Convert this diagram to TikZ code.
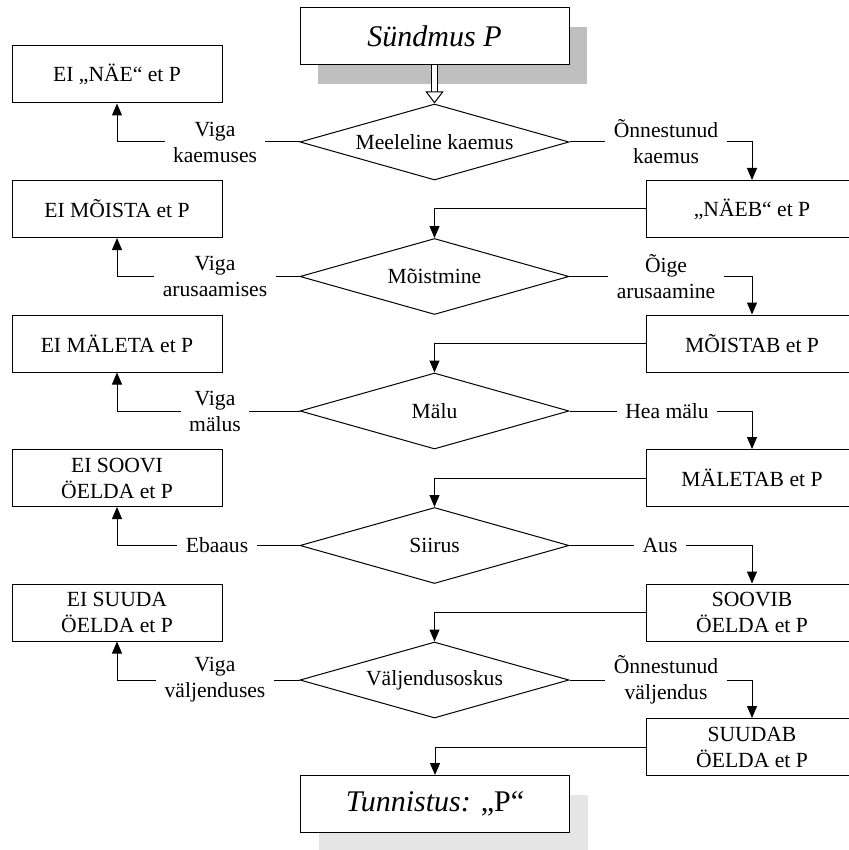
\documentclass[tikz,border=0pt]{standalone}
\usepackage{fontspec}
\setmainfont{Liberation Serif}
\usetikzlibrary{shapes.geometric,arrows.meta,shadows}

\tikzset{
  box/.style={draw, line width=0.5pt, fill=white, minimum width=105pt,
    minimum height=28.5pt, align=center, inner sep=2pt},
  choice/.style={draw, line width=0.5pt, diamond, aspect=3.5, fill=white,
    minimum width=134.5pt, minimum height=38pt, inner sep=1pt},
  lbl/.style={align=center, inner sep=4pt},
  link/.style={line width=0.5pt, -{Triangle[length=6pt,width=5pt]}},
  ends/.style={box, minimum width=134.5pt,
    font=\fontsize{15}{18}\selectfont},
}

\begin{document}
\begin{tikzpicture}[x=0.5pt, y=-0.5pt,
    every node/.append style={font=\fontsize{10.8}{13}\selectfont}]
  \useasboundingbox (0,0) rectangle (848,850);

  % start and end
  \node[ends, drop shadow={shadow xshift=9pt, shadow yshift=-9.5pt,
      fill=black!25, opacity=1}] (start) at (434.5,36.5) {\textit{Sündmus P}};
  \node[ends, drop shadow={shadow xshift=9pt, shadow yshift=-9.5pt,
      fill=black!10, opacity=1}] (stop) at (435,804) {\textit{Tunnistus:} „P“};

  % questions
  \node[choice] (d1) at (434.5,142) {Meeleline kaemus};
  \node[choice] (d2) at (434.5,276.5) {Mõistmine};
  \node[choice] (d3) at (434.5,411) {Mälu};
  \node[choice] (d4) at (434.5,545.5) {Siirus};
  \node[choice] (d5) at (434.5,680) {Väljendusoskus};

  % failures
  \node[box] (l1) at (117,74.5) {EI „NÄE“ et P};
  \node[box] (l2) at (117,209) {EI MÕISTA et P};
  \node[box] (l3) at (117,343.5) {EI MÄLETA et P};
  \node[box] (l4) at (117,478) {EI SOOVI\\ÖELDA et P};
  \node[box] (l5) at (117,612.5) {EI SUUDA\\ÖELDA et P};

  % successes
  \node[box, minimum width=106pt] (r1) at (752,209) {„NÄEB“ et P};
  \node[box, minimum width=106pt] (r2) at (752,343.5) {MÕISTAB et P};
  \node[box, minimum width=106pt] (r3) at (752,478) {MÄLETAB et P};
  \node[box, minimum width=106pt] (r4) at (752,612.5) {SOOVIB\\ÖELDA et P};
  \node[box, minimum width=106pt] (r5) at (752,747) {SUUDAB\\ÖELDA et P};

  % labels
  \node[lbl] (v1) at (215,142) {Viga\\kaemuses};
  \node[lbl] (v2) at (215,276.5) {Viga\\arusaamises};
  \node[lbl] (v3) at (215,411) {Viga\\mälus};
  \node[lbl] (v4) at (217,545.5) {Ebaaus};
  \node[lbl] (v5) at (215,680) {Viga\\väljenduses};
  \node[lbl] (o1) at (666,142) {Õnnestunud\\kaemus};
  \node[lbl] (o2) at (666,276.5) {Õige\\arusaamine};
  \node[lbl] (o3) at (667,411) {Hea mälu};
  \node[lbl] (o4) at (660,545.5) {Aus};
  \node[lbl] (o5) at (666,680) {Õnnestunud\\väljendus};

  \draw[double, double distance=2.4pt, line width=0.5pt,
    -{Triangle[open, length=6pt, width=9pt]}] (start) -- (d1);

  \foreach \i in {1,...,5} {
    \draw[line width=0.5pt] (d\i.west) -- (v\i.east);
    \draw[link] (v\i.west) -| (l\i.south);
    \draw[line width=0.5pt] (d\i.east) -- (o\i.west);
    \draw[link] (o\i.east) -| (r\i.north);
  }
  \foreach \i/\j in {1/2,2/3,3/4,4/5}
    \draw[link] (r\i.west) -| (d\j.north);
  \draw[link] (r5.west) -| (stop.north);
\end{tikzpicture}
\end{document}
